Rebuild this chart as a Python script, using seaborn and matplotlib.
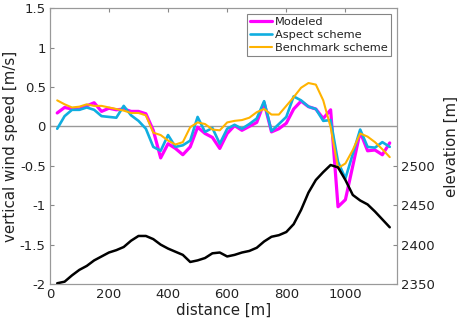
import numpy as np
import pandas as pd
import matplotlib
matplotlib.use("Agg")
import matplotlib.pyplot as plt
import seaborn as sns

# distance along the transect [m]
distance = list(range(25, 1151, 25))

# vertical wind speed [m/s]
modeled = [0.17, 0.24, 0.22, 0.22, 0.26, 0.30, 0.19, 0.23, 0.21, 0.22,
           0.19, 0.19, 0.16, -0.05, -0.40, -0.22, -0.28, -0.36, -0.26, -0.01,
           -0.09, -0.14, -0.28, -0.09, 0.01, -0.05, 0.00, 0.05, 0.30, -0.07,
           -0.03, 0.04, 0.22, 0.32, 0.25, 0.22, 0.10, 0.21, -1.02, -0.93,
           -0.50, -0.07, -0.31, -0.30, -0.36, -0.21]
aspect = [-0.03, 0.13, 0.21, 0.21, 0.24, 0.21, 0.13, 0.12, 0.11, 0.26,
          0.14, 0.07, -0.03, -0.26, -0.31, -0.11, -0.26, -0.24, -0.18, 0.12,
          -0.07, -0.02, -0.22, -0.03, 0.02, -0.03, 0.03, 0.10, 0.32, -0.06,
          0.03, 0.12, 0.38, 0.33, 0.25, 0.22, 0.07, 0.08, -0.45, -0.66,
          -0.35, -0.04, -0.26, -0.27, -0.20, -0.26]
benchmark = [0.33, 0.28, 0.24, 0.25, 0.28, 0.26, 0.26, 0.24, 0.22, 0.20,
             0.17, 0.17, 0.14, -0.08, -0.11, -0.18, -0.23, -0.20, -0.01, 0.05,
             0.03, -0.04, -0.05, 0.05, 0.07, 0.08, 0.11, 0.18, 0.22, 0.15,
             0.15, 0.26, 0.37, 0.49, 0.55, 0.53, 0.33, -0.01, -0.53, -0.47,
             -0.30, -0.09, -0.13, -0.20, -0.29, -0.39]

# terrain elevation [m]
elevation = [2351, 2353, 2361, 2368, 2373, 2380, 2385, 2390, 2393, 2397,
             2405, 2411, 2411, 2407, 2400, 2395, 2391, 2387, 2378, 2380,
             2383, 2389, 2390, 2385, 2387, 2390, 2392, 2396, 2404, 2410,
             2412, 2416, 2426, 2444, 2466, 2482, 2492, 2501, 2498, 2482,
             2463, 2456, 2451, 2442, 2432, 2422]

df = pd.DataFrame({"distance": distance, "Modeled": modeled,
                   "Aspect scheme": aspect, "Benchmark scheme": benchmark,
                   "elevation": elevation})

sns.set_style("white")
plt.rcParams["font.family"] = ["DejaVu Sans"]
plt.rcParams["text.color"] = "#222222"
plt.rcParams["axes.labelcolor"] = "#222222"

fig = plt.figure(figsize=(4.57, 3.25), dpi=100)
ax = fig.add_axes([0.109, 0.126, 0.760, 0.849])

ax.axhline(0, color="#999999", lw=1, zorder=1)
sns.lineplot(data=df, x="distance", y="Modeled", ax=ax, color="#ff00ff", lw=2.3, label="Modeled")
sns.lineplot(data=df, x="distance", y="Aspect scheme", ax=ax, color="#10aee0", lw=1.9, label="Aspect scheme")
sns.lineplot(data=df, x="distance", y="Benchmark scheme", ax=ax, color="#ffb300", lw=1.5, label="Benchmark scheme")

ax.set_xlim(0, 1175)
ax.set_ylim(-2, 1.5)
ax.set_xticks([0, 200, 400, 600, 800, 1000])
ax.set_yticks(np.arange(-2, 1.51, 0.5))
ax.set_yticklabels(["-2", "-1.5", "-1", "-0.5", "0", "0.5", "1", "1.5"])
ax.set_xlabel("distance [m]", fontsize=10.8, labelpad=1)
ax.set_ylabel("vertical wind speed [m/s]", fontsize=10.8, labelpad=1)
ax.tick_params(direction="in", length=3, color="#888888", top=True, pad=3,
               labelsize=9.5, labelcolor="#222222")

leg = ax.legend(loc="upper right", frameon=True, fancybox=False, fontsize=8.2,
                handlelength=1.95, handletextpad=0.25, borderpad=0.3,
                labelspacing=0.25, borderaxespad=0.5)
leg.get_frame().set_edgecolor("#666666")
leg.get_frame().set_linewidth(0.8)

ax2 = ax.twinx()
sns.lineplot(data=df, x="distance", y="elevation", ax=ax2, color="black", lw=1.8)
ax2.set_ylim(2350, 2700)
ax2.set_yticks([2350, 2400, 2450, 2500])
ax2.set_ylabel("elevation [m]", fontsize=10.8)
ax2.yaxis.set_label_coords(1.133, 0.5)
ax2.tick_params(direction="in", length=3, color="#888888", pad=3,
                labelsize=9.5, labelcolor="#222222")

for a in (ax, ax2):
    for s in a.spines.values():
        s.set_color("#999999")
        s.set_linewidth(0.8)

fig.savefig("out.png", dpi=100)
